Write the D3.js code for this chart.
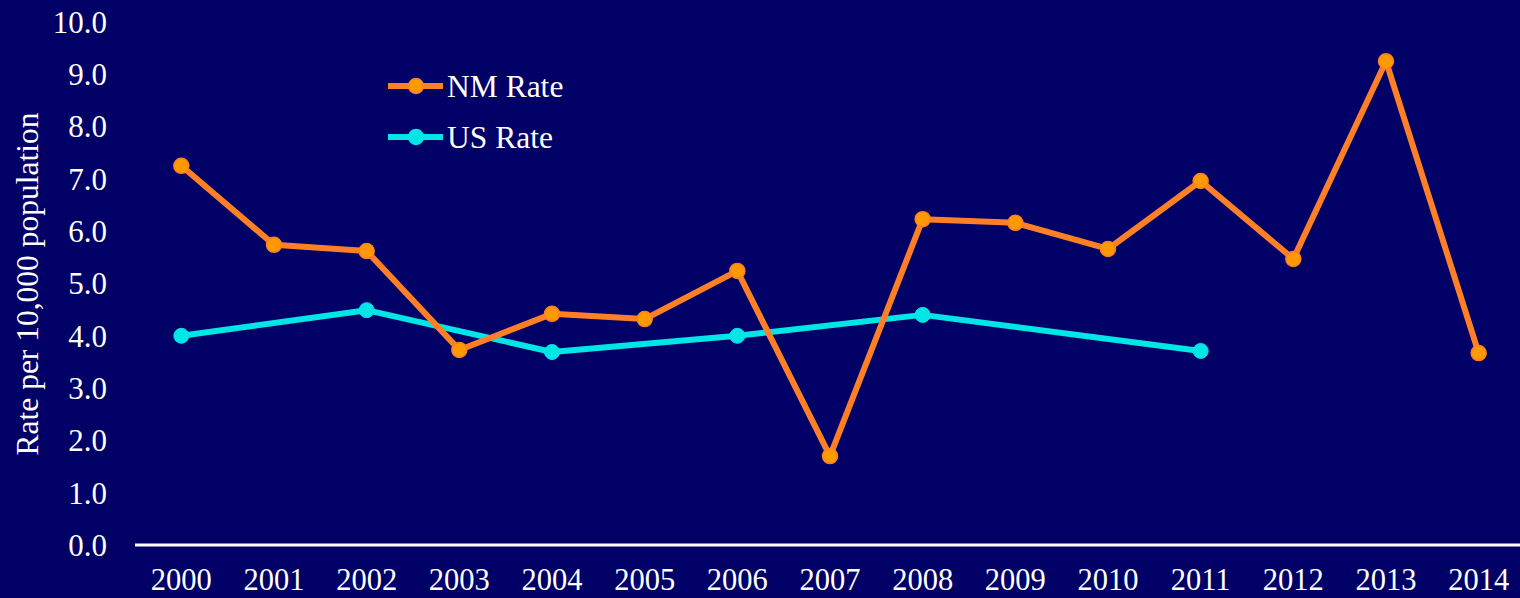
<!DOCTYPE html>
<html><head><meta charset="utf-8">
<script src="https://cdn.jsdelivr.net/npm/d3@7"></script>
<style>html,body{margin:0;padding:0;background:#000066;}svg{display:block;}</style>
</head><body>
<svg id="chart" width="1520" height="598"></svg>
<script>
const years = ["2000","2001","2002","2003","2004","2005","2006","2007","2008","2009","2010","2011","2012","2013","2014"];
const nmRate = [7.25,5.74,5.62,3.73,4.42,4.32,5.24,1.70,6.23,6.16,5.66,6.96,5.47,9.25,3.67];
const usYears = ["2000","2002","2004","2006","2008","2011"];
const usRate = [4.0,4.49,3.69,4.0,4.4,3.71];
const yTicks = [0,1,2,3,4,5,6,7,8,9,10];

const svg = d3.select("#chart");
const W = 1520, H = 598;
svg.append("rect").attr("width",W).attr("height",H).attr("fill","#000066");
const font = "'Liberation Serif','Times New Roman',serif";
const fs = "30.5px";

const x = d3.scaleBand().domain(years).range([135,1525]);
const y = d3.scaleLinear().domain([0,10]).range([545,22]);
const cx = d => x(d) + x.bandwidth()/2;

// x axis line
svg.append("line").attr("x1",135).attr("x2",W).attr("y1",y(0)).attr("y2",y(0))
  .attr("stroke","#ffffff").attr("stroke-width",3);

// y tick labels
svg.selectAll(".yt").data(yTicks).enter().append("text")
  .attr("x",107).attr("y",d=>y(d)).attr("dy","0.35em")
  .attr("text-anchor","end").attr("fill","#ffffff")
  .style("font-family",font).style("font-size","31px")
  .text(d=>d3.format(".1f")(d));

// x labels
svg.selectAll(".xt").data(years).enter().append("text")
  .attr("x",d=>cx(d)).attr("y",590)
  .attr("text-anchor","middle").attr("fill","#ffffff")
  .style("font-family",font).style("font-size",fs)
  .text(d=>d);

// y title
svg.append("text").attr("transform","translate(38,284) rotate(-90)")
  .attr("text-anchor","middle").attr("fill","#ffffff")
  .style("font-family",font).style("font-size","31.5px")
  .text("Rate per 10,000 population");

const line = d3.line().x(d=>cx(d[0])).y(d=>y(d[1]));
const nm = years.map((yr,i)=>[yr,nmRate[i]]);
const us = usYears.map((yr,i)=>[yr,usRate[i]]);

const orange = "#FF7F27", orangeFill = "#FF9900", cyan = "#00E5E5";

svg.append("path").datum(us).attr("d",line).attr("fill","none")
  .attr("stroke",cyan).attr("stroke-width",6).attr("stroke-linejoin","round");
svg.selectAll(".usp").data(us).enter().append("circle")
  .attr("cx",d=>cx(d[0])).attr("cy",d=>y(d[1])).attr("r",7.5)
  .attr("fill",cyan).attr("stroke",cyan).attr("stroke-width",1);

svg.append("path").datum(nm).attr("d",line).attr("fill","none")
  .attr("stroke",orange).attr("stroke-width",6).attr("stroke-linejoin","round");
svg.selectAll(".nmp").data(nm).enter().append("circle")
  .attr("cx",d=>cx(d[0])).attr("cy",d=>y(d[1])).attr("r",7.5)
  .attr("fill",orangeFill).attr("stroke",orange).attr("stroke-width",1.5);

// legend
const legend = [{name:"NM Rate",c:orange,f:orangeFill,y:86},{name:"US Rate",c:cyan,f:cyan,y:137}];
legend.forEach(l=>{
  svg.append("line").attr("x1",388).attr("x2",443).attr("y1",l.y).attr("y2",l.y)
    .attr("stroke",l.c).attr("stroke-width",6);
  svg.append("circle").attr("cx",416).attr("cy",l.y).attr("r",7.5)
    .attr("fill",l.f).attr("stroke",l.c).attr("stroke-width",1.5);
  svg.append("text").attr("x",447).attr("y",l.y).attr("dy","0.35em")
    .attr("fill","#ffffff").style("font-family",font).style("font-size","31.5px").text(l.name);
});
</script>
</body></html>
